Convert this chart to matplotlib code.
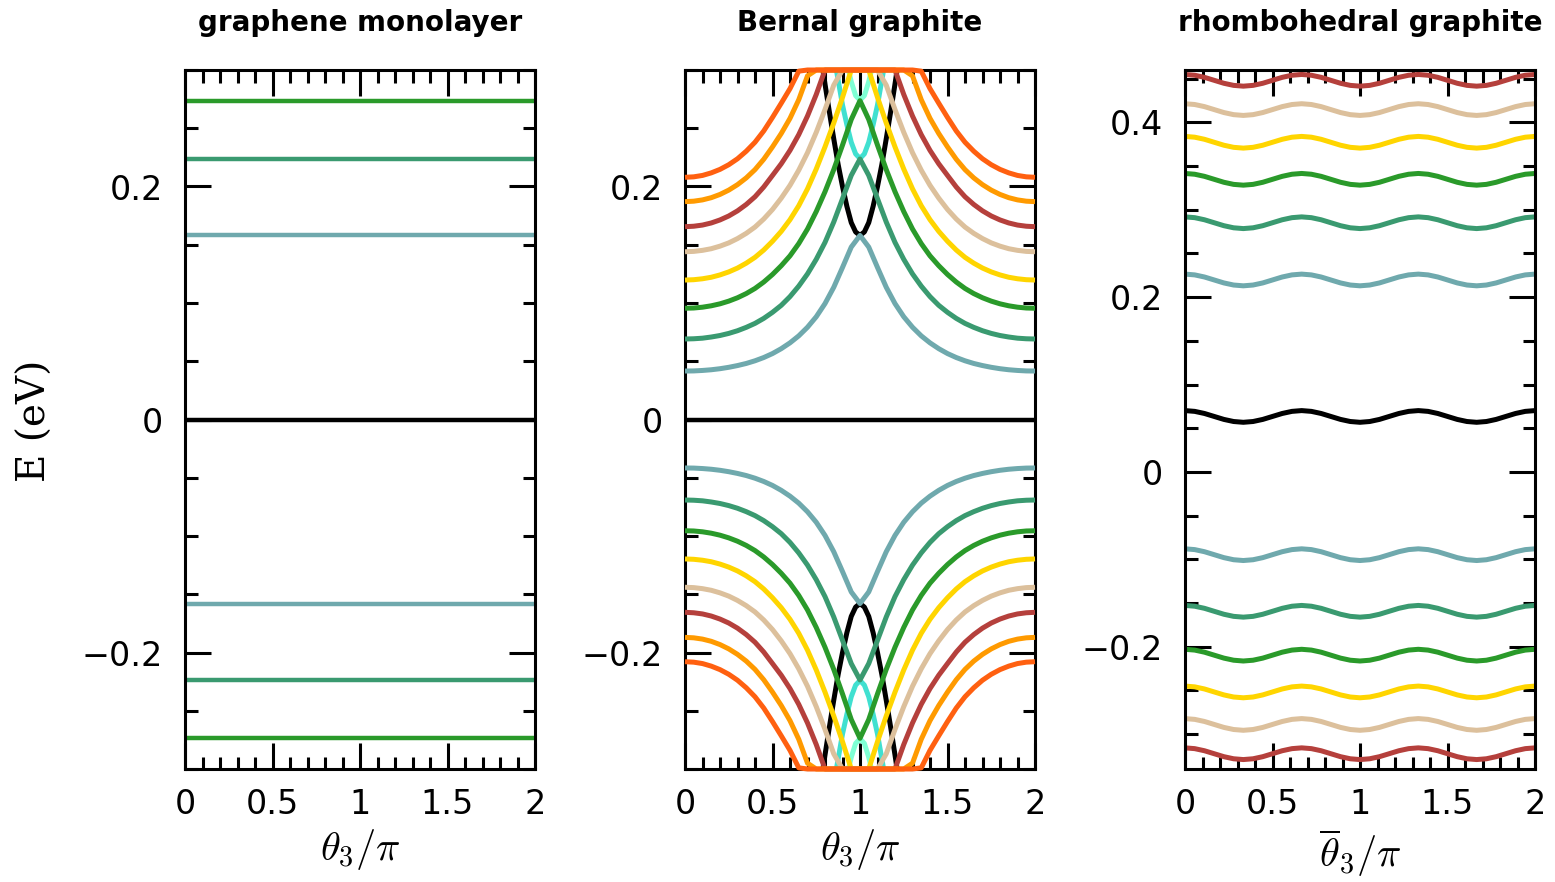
import numpy as np
import matplotlib
matplotlib.use('Agg')
import matplotlib.pyplot as plt
from matplotlib.ticker import MultipleLocator, FuncFormatter

plt.rcParams['mathtext.fontset'] = 'cm'
plt.rcParams['font.family'] = ['DejaVu Sans']

# ---------------- colours ----------------
C_CADET = '#6fa9ad'
C_SEA = '#3a9a70'
C_GREEN = '#2a9a2a'
C_GOLD = '#ffd500'
C_TAN = '#dcc09c'
C_BROWN = '#b5403c'
C_ORANGE = '#ff9a00'
C_ORED = '#ff6010'
C_TURQ = '#40e0d0'
C_AQUA = '#7fffd4'

# ---------------- panel 1: graphene monolayer ----------------
mono_levels = [0.273, 0.224, 0.158, 0.0, -0.158, -0.224, -0.273]
mono_colors = [C_GREEN, C_SEA, C_CADET, 'black', C_CADET, C_SEA, C_GREEN]

# ---------------- panel 2: Bernal graphite (theta3/pi from 0 to 1, mirrored) ----------------
theta_b = [0.0, 0.05, 0.1, 0.15, 0.2, 0.25, 0.3, 0.35, 0.4, 0.45, 0.5,
           0.55, 0.6, 0.65, 0.7, 0.75, 0.8, 0.85, 0.9, 0.95, 1.0]
b_cadet = [0.0416, 0.0417, 0.0421, 0.0427, 0.0436, 0.0448, 0.0463, 0.0481, 0.0504, 0.0532, 0.0566,
           0.0608, 0.0658, 0.0718, 0.0792, 0.0882, 0.0995, 0.1135, 0.1305, 0.1480, 0.1580]
b_sea = [0.0691, 0.0693, 0.0698, 0.0708, 0.0721, 0.0739, 0.0762, 0.0791, 0.0825, 0.0868, 0.0920,
         0.0980, 0.1055, 0.1145, 0.1250, 0.1375, 0.1520, 0.1695, 0.1895, 0.2095, 0.2236]
b_green = [0.0955, 0.0957, 0.0964, 0.0976, 0.0993, 0.1016, 0.1045, 0.1081, 0.1125, 0.1180, 0.1245,
           0.1320, 0.1405, 0.1510, 0.1635, 0.1785, 0.1955, 0.2145, 0.2355, 0.2575, 0.2737]
b_gold = [0.1197, 0.1200, 0.1208, 0.1221, 0.1241, 0.1267, 0.1300, 0.1342, 0.1392, 0.1455, 0.1530,
          0.1615, 0.1715, 0.1835, 0.1980, 0.2150, 0.2340, 0.2545, 0.2765, 0.3000, 0.3000]
b_tan = [0.1440, 0.1443, 0.1452, 0.1466, 0.1488, 0.1516, 0.1553, 0.1598, 0.1652, 0.1721, 0.1803,
         0.1900, 0.2010, 0.2140, 0.2290, 0.2465, 0.2660, 0.2870, 0.3000, 0.3000, 0.3000]
b_brown = [0.1655, 0.1659, 0.1669, 0.1687, 0.1713, 0.1747, 0.1791, 0.1846, 0.1912, 0.1996, 0.2095,
           0.2195, 0.2310, 0.2445, 0.2605, 0.2790, 0.3000, 0.3000, 0.3000, 0.3000, 0.3000]
b_orange = [0.1870, 0.1874, 0.1885, 0.1904, 0.1932, 0.1969, 0.2016, 0.2074, 0.2145, 0.2234, 0.2340,
            0.2455, 0.2585, 0.2745, 0.2950, 0.3000, 0.3000, 0.3000, 0.3000, 0.3000, 0.3000]
b_ored = [0.2079, 0.2083, 0.2095, 0.2117, 0.2147, 0.2187, 0.2238, 0.2303, 0.2380, 0.2477, 0.2593,
          0.2715, 0.2840, 0.2990, 0.3000, 0.3000, 0.3000, 0.3000, 0.3000, 0.3000, 0.3000]

theta_black = [0.788, 0.8, 0.825, 0.85, 0.875, 0.9, 0.925, 0.95, 0.975, 1.0]
b_black = [0.300, 0.288, 0.264, 0.241, 0.219, 0.200, 0.183, 0.169, 0.161, 0.158]
theta_turq = [0.865, 0.9, 0.925, 0.95, 0.975, 1.0]
b_turq = [0.300, 0.270, 0.253, 0.238, 0.228, 0.224]
theta_aqua = [0.934, 0.95, 0.975, 1.0]
b_aqua = [0.300, 0.290, 0.278, 0.274]

# ---------------- panel 3: rhombohedral graphite (one period, 2/3 in theta/pi) ----------------
r_brown = [0.4549, 0.4540, 0.4516, 0.4482, 0.4448, 0.4424, 0.4415, 0.4424, 0.4448, 0.4482, 0.4516, 0.4540, 0.4549]
r_tan = [0.4214, 0.4205, 0.4181, 0.4147, 0.4113, 0.4089, 0.4080, 0.4089, 0.4113, 0.4147, 0.4181, 0.4205, 0.4214]
r_gold = [0.3840, 0.3831, 0.3807, 0.3773, 0.3739, 0.3715, 0.3706, 0.3715, 0.3739, 0.3773, 0.3807, 0.3831, 0.3840]
r_green = [0.3416, 0.3407, 0.3383, 0.3349, 0.3315, 0.3291, 0.3282, 0.3291, 0.3315, 0.3349, 0.3383, 0.3407, 0.3416]
r_sea = [0.2919, 0.2910, 0.2886, 0.2852, 0.2818, 0.2794, 0.2785, 0.2794, 0.2818, 0.2852, 0.2886, 0.2910, 0.2919]
r_cadet = [0.2264, 0.2255, 0.2231, 0.2197, 0.2163, 0.2139, 0.2130, 0.2139, 0.2163, 0.2197, 0.2231, 0.2255, 0.2264]
r_black = [0.0702, 0.0693, 0.0669, 0.0635, 0.0601, 0.0577, 0.0568, 0.0577, 0.0601, 0.0635, 0.0669, 0.0693, 0.0702]
r_cadet_lo = [-0.0880, -0.0889, -0.0913, -0.0947, -0.0981, -0.1005, -0.1014, -0.1005, -0.0981, -0.0947, -0.0913, -0.0889, -0.0880]
r_sea_lo = [-0.1528, -0.1537, -0.1561, -0.1595, -0.1629, -0.1653, -0.1662, -0.1653, -0.1629, -0.1595, -0.1561, -0.1537, -0.1528]
r_green_lo = [-0.2030, -0.2039, -0.2063, -0.2097, -0.2131, -0.2155, -0.2164, -0.2155, -0.2131, -0.2097, -0.2063, -0.2039, -0.2030]
r_gold_lo = [-0.2451, -0.2460, -0.2484, -0.2518, -0.2552, -0.2576, -0.2585, -0.2576, -0.2552, -0.2518, -0.2484, -0.2460, -0.2451]
r_tan_lo = [-0.2823, -0.2832, -0.2856, -0.2890, -0.2924, -0.2948, -0.2957, -0.2948, -0.2924, -0.2890, -0.2856, -0.2832, -0.2823]
r_brown_lo = [-0.3158, -0.3167, -0.3191, -0.3225, -0.3259, -0.3283, -0.3292, -0.3283, -0.3259, -0.3225, -0.3191, -0.3167, -0.3158]

titles = ['graphene monolayer', 'Bernal graphite', 'rhombohedral graphite']
xlabels = [r'$\theta_3/\pi$', r'$\theta_3/\pi$', r'$\overline{\theta}_3/\pi$']

LW = 3.6


def fmt(v, pos):
    v = round(v, 6)
    if abs(v) < 1e-9:
        return '0'
    return ('%g' % v).replace('-', '\u2212')


def mirror(th, vals):
    th = np.asarray(th, float)
    vals = np.asarray(vals, float)
    full_t = np.concatenate([th, 2.0 - th[::-1][1:]])
    full_v = np.concatenate([vals, vals[::-1][1:]])
    return full_t, full_v


def tile3(period):
    p = np.asarray(period, float)
    return np.concatenate([p, p[1:], p[1:]])


fig = plt.figure(figsize=(15.55, 8.82), dpi=100)
lefts = [185 / 1555, 685 / 1555, 1185 / 1555]
bottom = 1 - 769 / 882
width = 350 / 1555
height = 699 / 882
axes = [fig.add_axes([l, bottom, width, height]) for l in lefts]

for ax, title, xl in zip(axes, titles, xlabels):
    ax.set_xlim(0, 2)
    ax.xaxis.set_major_locator(MultipleLocator(0.5))
    ax.xaxis.set_minor_locator(MultipleLocator(0.1))
    ax.yaxis.set_major_locator(MultipleLocator(0.2))
    ax.yaxis.set_minor_locator(MultipleLocator(0.05))
    ax.xaxis.set_major_formatter(FuncFormatter(fmt))
    ax.yaxis.set_major_formatter(FuncFormatter(fmt))
    ax.tick_params(which='both', direction='in', top=True, right=True,
                   width=2.2, labelsize=24, color='black')
    ax.tick_params(which='major', length=18.5)
    ax.tick_params(which='minor', length=9)
    ax.tick_params(axis='y', pad=16)
    ax.tick_params(axis='x', pad=14)
    for s in ax.spines.values():
        s.set_linewidth(2.2)
    ax.set_title(title, fontsize=20, fontweight='bold', pad=28)
    ax.set_xlabel(xl, fontsize=29, labelpad=4)

# panel 1
ax = axes[0]
ax.set_ylim(-0.3, 0.3)
for e, c in zip(mono_levels, mono_colors):
    ax.plot([0, 2], [e, e], color=c, lw=3.2, solid_capstyle='butt')

# panel 2
ax = axes[1]
ax.set_ylim(-0.3, 0.3)
ax.plot([0, 2], [0, 0], color='black', lw=3.2, solid_capstyle='butt')
small = [(theta_black, b_black, 'black'), (theta_turq, b_turq, C_TURQ), (theta_aqua, b_aqua, C_AQUA)]
for th, vals, c in small:
    t, v = mirror(th, vals)
    t = t - t[0] + th[0]
    for sgn in (1, -1):
        ax.plot(t, sgn * v, color=c, lw=LW, solid_capstyle='butt', solid_joinstyle='round',
                clip_on=False, zorder=3)
main = [(b_cadet, C_CADET), (b_sea, C_SEA), (b_green, C_GREEN), (b_gold, C_GOLD),
        (b_tan, C_TAN), (b_brown, C_BROWN), (b_orange, C_ORANGE), (b_ored, C_ORED)]
for i, (vals, c) in enumerate(main):
    t, v = mirror(theta_b, vals)
    for sgn in (1, -1):
        ax.plot(t, sgn * v, color=c, lw=LW, solid_capstyle='butt', solid_joinstyle='round',
                clip_on=False, zorder=3.1 + 0.01 * i)

# panel 3
ax = axes[2]
ax.set_ylim(-0.34, 0.46)
theta_r = np.linspace(0, 2, 37)
rh = [(r_brown, C_BROWN), (r_tan, C_TAN), (r_gold, C_GOLD), (r_green, C_GREEN),
      (r_sea, C_SEA), (r_cadet, C_CADET), (r_black, 'black'),
      (r_cadet_lo, C_CADET), (r_sea_lo, C_SEA), (r_green_lo, C_GREEN),
      (r_gold_lo, C_GOLD), (r_tan_lo, C_TAN), (r_brown_lo, C_BROWN)]
for vals, c in rh:
    ax.plot(theta_r, tile3(vals), color=c, lw=LW, solid_capstyle='butt', solid_joinstyle='round')

fig.text(35 / 1555, 1 - 421 / 882, 'E (eV)', rotation=90, fontsize=28,
         family='DejaVu Serif', ha='center', va='center')

fig.savefig('out.png', dpi=100)
